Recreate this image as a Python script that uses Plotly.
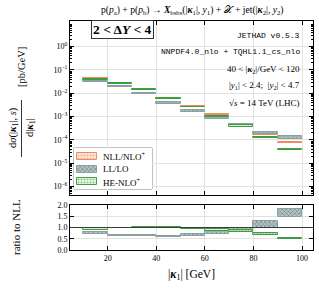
import plotly.graph_objects as go

# ---------------- data ----------------
kappa_centres = [15, 25, 35, 45, 55, 65, 75, 85, 95]   # |kappa_1| bin centres [GeV]
bin_width = 10

# main panel: d sigma / d|kappa_1| bands [pb/GeV]
nll_lo = [0.042, 0.0265, 0.0144, 0.0059, 0.0026, 0.00112, 0.00045, 0.000168, 0.000074]
nll_hi = [0.046, 0.0290, 0.0156, 0.0065, 0.0028, 0.00124, 0.00049, 0.000184, 0.000082]
ll_lo = [0.0295, 0.0178, 0.0092, 0.0036, 0.00158, 0.00079, 0.00038, 0.000172, 0.000113]
ll_hi = [0.0345, 0.0208, 0.0108, 0.0043, 0.00188, 0.00097, 0.00047, 0.000228, 0.000143]
he_lo = [0.0385, 0.0262, 0.0143, 0.0058, 0.00248, 0.00100, 0.00037, 0.000118, 0.0000365]
he_hi = [0.0425, 0.0282, 0.0153, 0.0063, 0.00264, 0.00108, 0.00042, 0.000134, 0.0000410]

# ratio panel: ratio to NLL
nll_r_lo = [0.997, 0.997, 0.997, 0.997, 0.997, 0.997, 0.997, 0.997, 0.997]
nll_r_hi = [1.003, 1.003, 1.003, 1.003, 1.003, 1.003, 1.003, 1.003, 1.003]
ll_r_lo = [0.70, 0.62, 0.61, 0.59, 0.62, 0.73, 0.84, 0.96, 1.46]
ll_r_hi = [0.80, 0.68, 0.66, 0.64, 0.70, 0.85, 1.00, 1.31, 1.83]
he_r_lo = [0.88, 0.97, 0.99, 0.99, 0.93, 0.85, 0.80, 0.66, 0.47]
he_r_hi = [0.97, 1.00, 1.01, 1.01, 0.98, 0.92, 0.90, 0.76, 0.53]

series_names = ["NLL/NLO<sup>+</sup>", "LL/LO", "HE-NLO<sup>+</sup>"]
x_ticks = [20, 40, 60, 80, 100]
y_exponents = [0, -1, -2, -3, -4, -5, -6]
ratio_ticks = [0.0, 0.5, 1.0, 1.5, 2.0]

# ---------------- geometry / style ----------------
W, H = 319, 288
L, R, T, B = 70, 6, 21, 38
pw = W - L - R
ph = H - T - B
def px(x):
    return (x - L) / pw
def py(y):
    return (H - B - y) / ph

SERIF = "Liberation Serif"
MONO = "Liberation Mono"

styles = [
    dict(bg="#ffe9de", fg="#ee6f45", line="#f08a60", shape=".", lw=1),
    dict(bg="#b4c6c6", fg="#34423f", line="#8aa0a0", shape="x", lw=1),
    dict(bg="#f1faee", fg="#248a24", line="#3e9e3e", shape=".", lw=1),
]

def marker_for(st, lw=None):
    return dict(color=st["bg"],
                pattern=dict(shape=st["shape"], fgcolor=st["fg"], bgcolor=st["bg"],
                             size=3, solidity=0.4),
                line=dict(color=st["line"], width=st["lw"] if lw is None else lw))

fig = go.Figure()

main_bands = [(nll_lo, nll_hi), (ll_lo, ll_hi), (he_lo, he_hi)]
ratio_bands = [(nll_r_lo, nll_r_hi), (ll_r_lo, ll_r_hi), (he_r_lo, he_r_hi)]

for name, st, (lo, hi) in zip(series_names, styles, main_bands):
    fig.add_trace(go.Bar(
        x=kappa_centres, base=lo, y=[h - l for l, h in zip(lo, hi)],
        width=bin_width, name=name, xaxis="x2", yaxis="y", showlegend=False,
        marker=marker_for(st), hoverinfo="skip"))

for i, (name, st, (lo, hi)) in enumerate(zip(series_names, styles, ratio_bands)):
    fig.add_trace(go.Bar(
        x=kappa_centres, base=lo, y=[h - l for l, h in zip(lo, hi)],
        width=bin_width, name=name, xaxis="x", yaxis="y2", showlegend=False,
        marker=marker_for(st, lw=0 if i == 0 else None), hoverinfo="skip"))

# custom compact legend (icons on a hidden overlay axis in pixel-like units)
LEG_X0, LEG_X1, LEG_Y0, LEG_Y1 = 74, 152, 148, 189
leg_rows = [156, 169, 181.5]
for name, st, row in zip(series_names, styles, leg_rows):
    fig.add_trace(go.Bar(
        x=[87], base=[row - 3.5], y=[7], width=[20], xaxis="x3", yaxis="y3",
        showlegend=False, marker=marker_for(st), hoverinfo="skip"))

minor_vals = [m * 10.0 ** e for e in range(-7, 2) for m in range(2, 10)]

axis_common = dict(showline=True, linecolor="black", linewidth=1, mirror="allticks",
                   ticks="inside", ticklen=4, tickcolor="black",
                   showgrid=True, gridcolor="#e2e2e2", gridwidth=0.8, zeroline=False,
                   tickfont=dict(family=SERIF, size=8, color="black"))

fig.update_layout(
    width=W, height=H,
    margin=dict(l=L, r=R, t=T, b=B),
    paper_bgcolor="white", plot_bgcolor="white",
    barmode="overlay", bargap=0,
    showlegend=False,
    xaxis=dict(domain=[0, 1], anchor="y2", range=[4.5, 104.5],
               tickmode="array", tickvals=x_ticks, **axis_common),
    xaxis2=dict(domain=[0, 1], anchor="y", range=[4.5, 104.5], matches="x",
                tickmode="array", tickvals=x_ticks, showticklabels=False, **axis_common),
    yaxis=dict(domain=[py(195), 1], anchor="x2", type="log", range=[-6.36, 1.10],
               tickmode="array", tickvals=[10.0 ** e for e in y_exponents],
               ticktext=["10<sup>%s</sup>" % (str(e).replace("-", "\u2212")) for e in y_exponents],
               minor=dict(tickmode="array", tickvals=minor_vals, ticks="inside",
                          ticklen=2, tickcolor="black", showgrid=False),
               **axis_common),
    yaxis2=dict(domain=[0, py(205)], anchor="x", range=[0, 2.0],
                tickmode="array", tickvals=ratio_ticks,
                ticktext=["%.1f" % v for v in ratio_ticks], **axis_common),
    xaxis3=dict(domain=[px(LEG_X0), px(LEG_X1)], anchor="y3", range=[LEG_X0, LEG_X1],
                visible=False, fixedrange=True),
    yaxis3=dict(domain=[py(LEG_Y1), py(LEG_Y0)], anchor="x3", range=[LEG_Y1, LEG_Y0],
                visible=False, fixedrange=True),
)

# reference line at ratio = 1
fig.add_shape(type="line", xref="x domain", yref="y2", x0=0, x1=1, y0=1, y1=1,
              line=dict(color="#3a3a3a", width=1.1), layer="above")
# legend frame
fig.add_shape(type="rect", xref="paper", yref="paper",
              x0=px(LEG_X0), x1=px(LEG_X1), y0=py(LEG_Y1), y1=py(LEG_Y0),
              line=dict(color="#666666", width=0.8), fillcolor="white", layer="between")

kap = "<b><i>\u03ba</i></b>"
ann = []
def text(x, y, s, size, family=SERIF, xanchor="center", angle=0, **kw):
    ann.append(dict(x=px(x), y=py(y), xref="paper", yref="paper", text=s, showarrow=False,
                    xanchor=xanchor, yanchor="middle", textangle=angle,
                    font=dict(family=family, size=size, color="black"), **kw))

text(192, 10, "p(<i>p</i><sub>a</sub>) + p(<i>p</i><sub>b</sub>) \u2192 <b><i>X</i></b><sub>bsbs</sub>(|%s<sub>1</sub>|, <i>y</i><sub>1</sub>) + \U0001D4B3 + jet(|%s<sub>2</sub>|, <i>y</i><sub>2</sub>)" % (kap, kap), 9.6)
text(122, 30, "<b>2 &lt; \u0394<i>Y</i> &lt; 4</b>", 13.5, bordercolor="#333333", borderwidth=1, borderpad=1, bgcolor="white")
text(302, 35, "JETHAD v0.5.3", 8, family=MONO, xanchor="right")
text(302, 51.5, "NNPDF4.0_nlo + TQHL1.1_cs_nlo", 8, family=MONO, xanchor="right")
text(302, 69, "40 &lt; |%s<sub>2</sub>|/GeV &lt; 120" % kap, 9, xanchor="right")
text(302, 85, "|<i>y</i><sub>1</sub>| &lt; 2.4;  |<i>y</i><sub>2</sub>| &lt; 4.7", 9, xanchor="right")
text(302, 103, "\u221a<i>s</i> = 14 TeV (LHC)", 9, xanchor="right")
# legend labels
for name, row in zip(series_names, leg_rows):
    text(101, row, name, 9, xanchor="left")
# y-axis title (fraction)
text(13, 128, "d<i>\u03c3</i>(|%s<sub>1</sub>|, <i>s</i>)" % kap, 10.5, angle=-90)
text(30, 128, "d|%s<sub>1</sub>|" % kap, 10.5, angle=-90)
text(21, 67, "[pb/GeV]", 10.5, angle=-90)
text(16, 227, "ratio to NLL", 11, angle=-90)
text(191, 275, "|%s<sub>1</sub>| [GeV]" % kap, 11.5)
fig.update_layout(annotations=ann)
fig.add_shape(type="line", xref="paper", yref="paper", x0=px(21.5), x1=px(21.5),
              y0=py(100), y1=py(157), line=dict(color="black", width=0.8))

fig.write_html("out.html", config={"displayModeBar": False},
               post_script="document.body.style.margin='0px';")
